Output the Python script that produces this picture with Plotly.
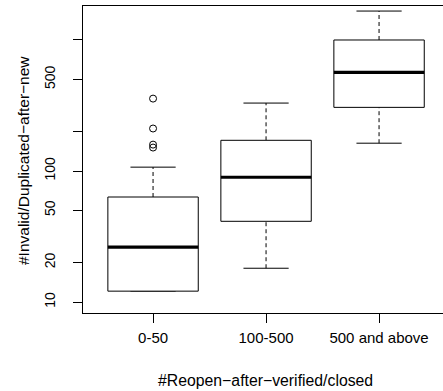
import plotly.graph_objects as go

# ---- data ----
categories = ["0-50", "100-500", "500 and above"]
lower_whisker = [12.1, 18.1, 163]
q1 = [12.1, 41.3, 306]
median = [26.2, 89.6, 567]
q3 = [63.3, 171.5, 1000]
upper_whisker = [107, 330, 1663]
outliers = [[357, 211, 159, 151], [], []]

y_tickvals = [10, 20, 50, 100, 200, 500, 1000]
y_ticktext = ["10", "20", "50", "100", "", "500", ""]

x_title = "#Reopen\u2212after\u2212verified/closed"
y_title = "#Invalid/Duplicated\u2212after\u2212new"

# ---- style ----
FONT = "Liberation Sans, Arial, Helvetica, sans-serif"
BOXWEX = 0.8
STAPLE = 0.5

fig = go.Figure()
for i, cat in enumerate(categories):
    x = i + 1
    hw = BOXWEX / 2
    sw = BOXWEX * STAPLE / 2
    # whiskers (dashed)
    fig.add_trace(go.Scatter(x=[x, x], y=[q3[i], upper_whisker[i]], mode="lines",
                             line=dict(color="black", width=1, dash="4px,3px"),
                             hoverinfo="skip", showlegend=False))
    fig.add_trace(go.Scatter(x=[x, x], y=[lower_whisker[i], q1[i]], mode="lines",
                             line=dict(color="black", width=1, dash="4px,3px"),
                             hoverinfo="skip", showlegend=False))
    # staples
    for v in (upper_whisker[i], lower_whisker[i]):
        fig.add_trace(go.Scatter(x=[x - sw, x + sw], y=[v, v], mode="lines",
                                 line=dict(color="black", width=1),
                                 hoverinfo="skip", showlegend=False))
    # box
    fig.add_trace(go.Scatter(x=[x - hw, x + hw, x + hw, x - hw, x - hw],
                             y=[q1[i], q1[i], q3[i], q3[i], q1[i]],
                             mode="lines", fill="toself", fillcolor="white",
                             line=dict(color="black", width=1),
                             hoverinfo="skip", showlegend=False))
    # median
    fig.add_trace(go.Scatter(x=[x - hw, x + hw], y=[median[i], median[i]], mode="lines",
                             line=dict(color="black", width=3.2),
                             hoverinfo="skip", showlegend=False))
    # outliers
    if outliers[i]:
        fig.add_trace(go.Scatter(x=[x] * len(outliers[i]), y=outliers[i], mode="markers",
                                 marker=dict(symbol="circle-open", size=7,
                                             color="black", line=dict(width=1)),
                                 hoverinfo="skip", showlegend=False))

fig.update_layout(
    width=443, height=391,
    margin=dict(l=83, r=0, t=6, b=78),
    paper_bgcolor="white", plot_bgcolor="white",
    font=dict(family=FONT, size=13, color="black"),
    xaxis=dict(range=[0.38, 0.38 + 360 / 113], tickvals=[1, 2, 3], ticktext=categories,
               showline=True, mirror=True, linecolor="black", linewidth=1,
               ticks="outside", ticklen=9, tickcolor="black", tickwidth=1,
               ticklabelstandoff=2,
               showgrid=False, zeroline=False, tickfont=dict(size=15)),
    yaxis=dict(type="log", range=[0.916, 3.2595], tickvals=y_tickvals, ticktext=y_ticktext,
               tickangle=-90, showline=True, mirror=False, linecolor="black", linewidth=1,
               ticks="outside", ticklen=9, tickcolor="black", tickwidth=1,
               ticklabelstandoff=12,
               showgrid=False, zeroline=False, tickfont=dict(size=14)),
    annotations=[
        dict(text=x_title, xref="paper", yref="paper", x=(265 - 83) / 360,
             y=(313 - 380) / 307, showarrow=False, xanchor="center", yanchor="middle",
             font=dict(size=15.8)),
        dict(text=y_title, xref="paper", yref="paper", x=(23 - 83) / 360,
             y=(313 - 161) / 307, showarrow=False, xanchor="center", yanchor="middle",
             textangle=-90, font=dict(size=15.5)),
    ],
)

fig.write_html("out.html", config={"displayModeBar": False},
               post_script="document.body.style.margin='0';")
